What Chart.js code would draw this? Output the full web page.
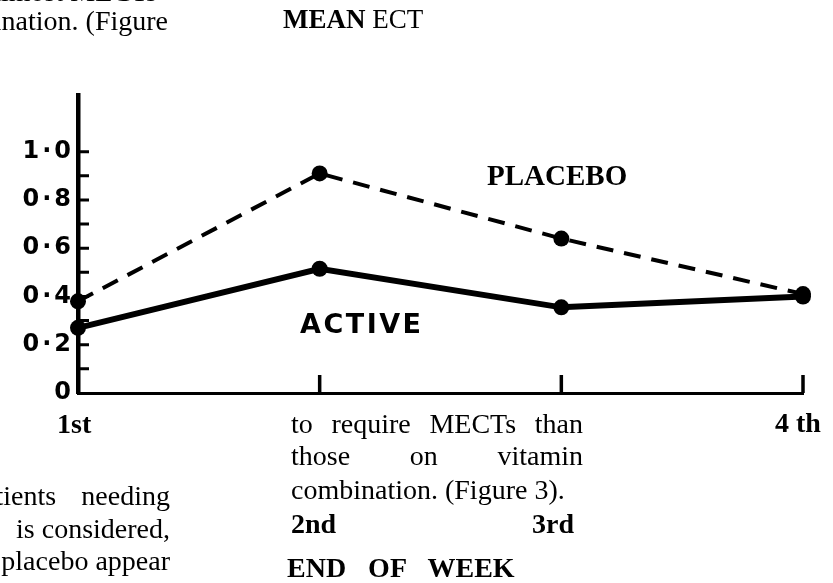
<!DOCTYPE html>
<html>
<head>
<meta charset="utf-8">
<script src="https://cdn.jsdelivr.net/npm/chart.js@4"></script>
<style>
html,body{margin:0;padding:0;background:#fff;overflow:hidden}
#wrap{position:relative;width:833px;height:583px;overflow:hidden;background:#fff}
#chart{position:absolute;left:0;top:0}
.t{position:absolute;white-space:nowrap;color:#000;line-height:1;font-family:"Liberation Serif","Times New Roman",serif}
</style>
</head>
<body>
<div id="wrap">
<canvas id="chart" width="833" height="583"></canvas>
</div>
<script>

// data

const weeks = ['1st','2nd','3rd','4 th']
const placebo = [0.38,0.91,0.64,0.41]
const active = [0.27,0.515,0.355,0.40]
const yTickLabels = ['0','0·2','0·4','0·6','0·8','1·0']
const minorTicks = [0.1,0.2,0.3,0.4,0.5,0.6,0.7,0.8,0.9,1.0]


// inward tick marks on both axes

const innerTicks = {
id:'innerTicks',
beforeDatasetsDraw(chart){
const ctx = chart.ctx
const xs = chart.scales.x
const ys = chart.scales.y
const area = chart.chartArea
ctx.save()
ctx.strokeStyle = '#000'
ctx.lineWidth = 3
ctx.beginPath()
minorTicks.forEach(v=>{
const y = ys.getPixelForValue(v)
ctx.moveTo(area.left, y)
ctx.lineTo(area.left + 11, y)
})
ctx.stroke()
ctx.lineWidth = 3.5
ctx.beginPath()
weeks.forEach((w,i)=>{
if(i==0) return
const x = xs.getPixelForValue(i)
ctx.moveTo(x, area.bottom)
ctx.lineTo(x, area.bottom - 18)
})
ctx.stroke()
ctx.restore()
}
}

// wide spacing for the y labels

const spacing = {
id:'spacing',
beforeDraw(chart){ chart.ctx.letterSpacing = '3px' },
afterDraw(chart){ chart.ctx.letterSpacing = '0px' }
}


const chart = new Chart(document.getElementById('chart'),{
type:'line',
data:{
labels:weeks,
datasets:[{
label:'PLACEBO',
data:placebo,
borderColor:'#000',
backgroundColor:'#000',
borderWidth:4,
borderDash:[17,11],
pointRadius:8,
pointBorderWidth:0,
pointBackgroundColor:'#000',
tension:0,
clip:false,
order:1
},{
label:'ACTIVE',
data:active,
borderColor:'#000',
backgroundColor:'#000',
borderWidth:6,
pointRadius:8,
pointBorderWidth:0,
pointBackgroundColor:'#000',
tension:0,
clip:false,
order:0
}]
},
options:{
responsive:false,
animation:false,
devicePixelRatio:1,
layout:{padding:{left:0,top:95,right:30,bottom:190}},
plugins:{legend:{display:false},tooltip:{enabled:false}},
scales:{
x:{
offset:false,
grid:{display:false,drawTicks:false},
ticks:{display:false},
border:{display:true,color:'#000',width:3},
afterFit(s){ s.height = 0 }
},
y:{
min:0,
max:1.235,
grid:{display:false,drawTicks:false},
border:{display:true,color:'#000',width:4.5},
ticks:{
stepSize:0.1,
autoSkip:false,
color:'#000',
padding:4,
font:{family:'DejaVu Sans',size:24,weight:'bold'},
callback(v){
const k = Math.round(v*10)
return (k%2==0 && k<=10) ? yTickLabels[k/2] : ''
}
},
afterFit(s){ s.width = 78 }
}
}
},
plugins:[innerTicks,spacing]
})


// page text round the figure

const wrap = document.getElementById('wrap')

function put(txt, x, base, size, css, asc){
const d = document.createElement('div')
d.className = 't'
d.textContent = txt
d.style.fontSize = size + 'px'
d.style.top = (base - (asc || 0.8375) * size) + 'px'
if(x != null) d.style.left = x + 'px'
Object.assign(d.style, css || {})
wrap.appendChild(d)
return d
}

put('almost MECTs', null, 1, 28, {right:(833-157)+'px'})
put('combination. (Figure', null, 30, 28, {right:(833-168)+'px'})
put('', 283, 29, 27).innerHTML = '<b>MEAN</b> ECT'

put('PLACEBO', 487, 185, 29, {fontWeight:'bold'})
put('ACTIVE', 300, 333, 27, {fontWeight:'bold',fontFamily:'"DejaVu Sans",sans-serif',letterSpacing:'2.5px'}, 0.846)

put(weeks[0], 57, 433, 28, {fontWeight:'bold'})
put(weeks[3], 775, 432, 28, {fontWeight:'bold'})

const just = {width:'292px',textAlign:'justify',textAlignLast:'justify'}
put('to require MECTs than', 291, 433, 28, just)
put('those on vitamin', 291, 465, 28, just)
put('combination. (Figure 3).', 291, 499, 28)

put(weeks[1], 291, 533, 28, {fontWeight:'bold'})
put(weeks[2], 532, 533, 28, {fontWeight:'bold'})
put('END OF WEEK', 287, 577, 28, {fontWeight:'bold',wordSpacing:'15px'})

put('patients needing', -31, 505, 28, {width:'201px',textAlign:'justify',textAlignLast:'justify'})
put('is considered,', null, 538, 28, {right:(833-170)+'px'})
put('placebo appear', null, 570, 28, {right:(833-170)+'px'})

</script>
</body>
</html>
